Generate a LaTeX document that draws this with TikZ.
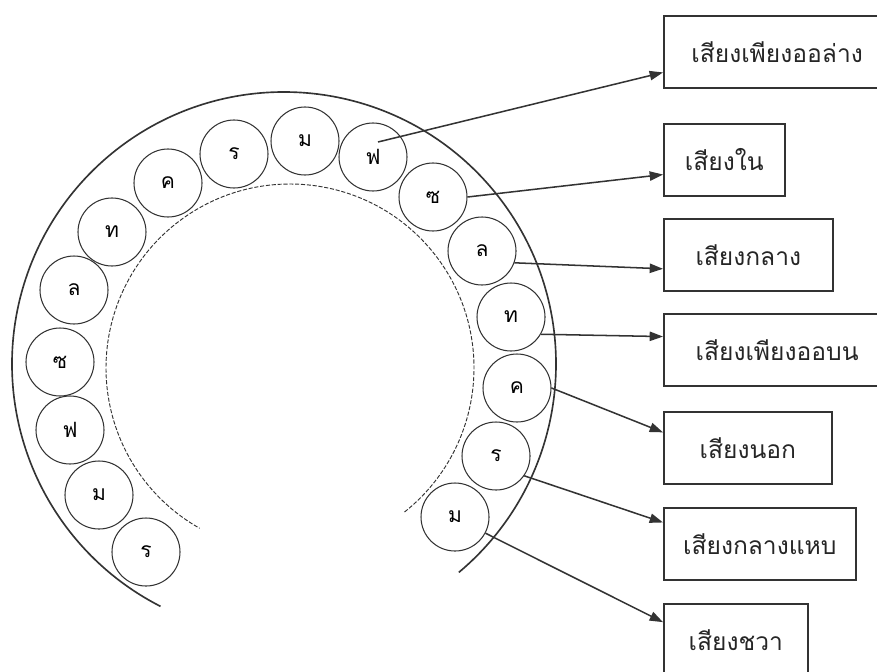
\documentclass[tikz,border=0pt]{standalone}
\usepackage{fontspec}
\newfontfamily\thaifont[Script=Thai]{Loma}
\usetikzlibrary{positioning}
\usetikzlibrary{arrows.meta}
\usetikzlibrary{calc}

\begin{document}
\begin{tikzpicture}[
			x=0.03cm, y=0.03cm,
			ink/.style    = {black!80},
			note/.style   = {circle, draw, ink, text=black, line width=0.9pt, minimum size=2.04cm, inner sep=0pt, font=\thaifont\fontsize{18}{18}\selectfont},
			tone/.style   = {rectangle, draw, ink, text=black!85, line width=1.4pt, minimum height=2.16cm, inner sep=0pt, anchor=north west, font=\thaifont\fontsize{21}{21}\selectfont},
			edge/.style   = {-{Triangle[length=4mm,width=2.8mm]}, ink, line width=1.3pt}
			]
			\useasboundingbox (0,0) rectangle (877,-671);

			% ring
			\coordinate (o) at (284,-364);
			\coordinate (oi) at (290,-368);
			\draw[ink, line width=1.4pt] ($(o)+(-50:272)$) arc[start angle=-50, end angle=243, radius=272];
			\draw[ink, dash pattern=on 3.5pt off 1.5pt, line width=0.8pt] ($(oi)+(-51.5:184)$) arc[start angle=-51.5, end angle=240.6, radius=184];

			% notes on the ring
			\foreach \n/\x/\y/\t in {1/146/-552/ร, 2/99/-495/ม, 3/70/-430/ฟ, 4/60/-362/ซ,
					5/74/-290/ล, 6/112/-232/ท, 7/168/-183/ค, 8/234/-154/ร,
					9/305/-141/ม, 10/373/-157/ฟ, 11/433/-197/ซ, 12/482/-251/ล,
					13/511/-317/ท, 14/517/-388/ค, 15/496/-456/ร, 16/455/-517/ม}
			\node[note] (c\n) at (\x,\y) {\t};

			% boxes
			\foreach \n/\y/\w/\t in {1/-15/6.8/เสียงเพียงออล่าง, 2/-123/3.63/เสียงใน, 3/-218/5.07/เสียงกลาง,
					4/-313/6.8/เสียงเพียงออบน, 5/-411/5.04/เสียงนอก, 6/-507/5.76/เสียงกลางแหบ, 7/-603/4.32/เสียงชวา}
			\node[tone, minimum width=\w cm] (b\n) at (663,\y) {\t};

			% arrows
			\coordinate (s1) at ($(c10)+(5,15)$);
			\foreach \s/\b/\f in {s1/b1/0.78, c11.east/b2/0.7, c12.-20/b3/0.69, c13.-30/b4/0.32,
					c14.east/b5/0.29, c15.-35/b6/0.21, c16.-28/b7/0.26}
			\draw[edge] (\s) -- ($(\b.north west)!\f!(\b.south west)$);
		\end{tikzpicture}
\end{document}
